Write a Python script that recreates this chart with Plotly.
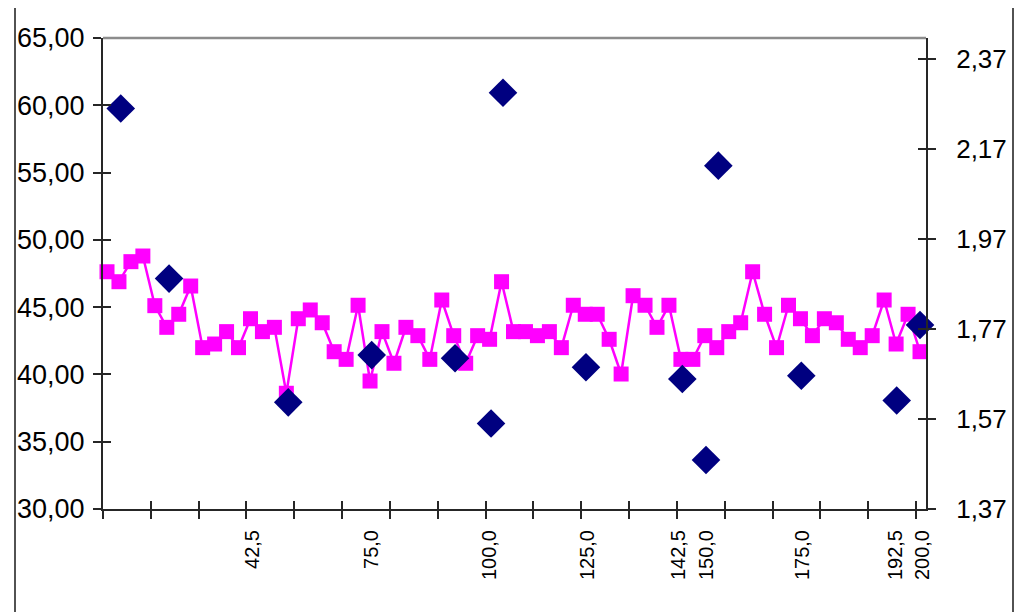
import plotly.graph_objects as go

# ---- data ----
line_values = [47.63, 46.89, 48.38, 48.80, 45.11, 43.50, 44.47, 46.57, 41.99, 42.26,
               43.18, 41.99, 44.14, 43.18, 43.50, 38.60, 44.14, 44.79, 43.84, 41.69,
               41.12, 45.14, 39.51, 43.18, 40.83, 43.50, 42.88, 41.12, 45.53, 42.88,
               40.83, 42.88, 42.61, 46.89, 43.18, 43.18, 42.88, 43.18, 41.99, 45.14,
               44.47, 44.47, 42.61, 40.03, 45.85, 45.14, 43.50, 45.14, 41.12, 41.12,
               42.88, 41.99, 43.18, 43.84, 47.63, 44.47, 41.99, 45.14, 44.14, 42.88,
               44.14, 43.84, 42.61, 41.99, 42.88, 45.53, 42.26, 44.47, 41.69]
line_x = list(range(len(line_values)))

diamond_x = [1.15, 5.19, 15.16, 22.14, 29.11, 32.12, 33.12, 40.06, 48.12,
             50.10, 51.13, 58.07, 66.05, 68.00]
diamond_values = [2.260, 1.882, 1.607, 1.712, 1.705, 1.560, 2.295, 1.685, 1.659,
                  1.479, 2.133, 1.666, 1.611, 1.779]

label_pos = [12.13, 22.16, 32.03, 40.15, 47.76, 50.18, 58.13, 65.91, 68.17]
label_text = ["42,5", "75,0", "100,0", "125,0", "142,5", "150,0", "175,0", "192,5", "200,0"]

left_ticks = [30, 35, 40, 45, 50, 55, 60, 65]
right_ticks = [1.37, 1.57, 1.77, 1.97, 2.17, 2.37]

# ---- styling ----
FONT = "Arial, Liberation Sans, sans-serif"
AX = "#262626"
XR = [-0.335, 68.5]
YR = [30, 65]
Y2R = [1.37, 2.4167]

# page body has an 8px margin, so the figure is drawn 8px in from the window edge
W, H = 1016, 604
L, T, R, B = 95, 30, 1016 - 918, 604 - 501
PW, PH = W - L - R, H - T - B

fig = go.Figure()
fig.add_trace(go.Scatter(
    x=line_x, y=line_values, mode="lines+markers",
    line=dict(color="#FF00FF", width=2.5),
    marker=dict(symbol="square", size=15, color="#FF00FF", line=dict(width=0)),
    cliponaxis=False, showlegend=False, hoverinfo="skip", xaxis="x", yaxis="y"))
fig.add_trace(go.Scatter(
    x=diamond_x, y=diamond_values, mode="markers",
    marker=dict(symbol="diamond", size=22, color="#000080", line=dict(width=0)),
    cliponaxis=False, showlegend=False, hoverinfo="skip", xaxis="x", yaxis="y2"))

# empty helper traces so the overlay axes (cross ticks, labels) get drawn
for xa, ya in [("x2", "y"), ("x3", "y"), ("x", "y3"), ("x", "y4")]:
    fig.add_trace(go.Scatter(x=[None], y=[None], mode="markers", showlegend=False,
                             hoverinfo="skip", xaxis=xa, yaxis=ya))

common_x = dict(range=XR, showgrid=False, zeroline=False, automargin=False)
fig.update_layout(
    width=W, height=H,
    margin=dict(l=L, r=R, t=T, b=B, pad=0, autoexpand=False),
    paper_bgcolor="white", plot_bgcolor="white",
    separators=", ",
    font=dict(family=FONT, color="black"),
    xaxis=dict(**common_x, tickmode="linear", tick0=XR[0], dtick=4,
               showticklabels=False, ticks="outside", ticklen=8, tickwidth=1.5,
               tickcolor=AX, showline=True, linecolor=AX, linewidth=2, anchor="y"),
    xaxis2=dict(**common_x, overlaying="x", anchor="y", tickmode="linear",
                tick0=XR[0], dtick=4, showticklabels=False, ticks="inside",
                ticklen=8, tickwidth=1.5, tickcolor=AX, showline=False),
    xaxis3=dict(**common_x, overlaying="x", anchor="y", tickmode="array",
                tickvals=label_pos, ticktext=label_text, ticks="",
                tickangle=-90, tickfont=dict(size=20, family=FONT),
                ticklabelstandoff=16, showline=False),
    yaxis=dict(range=YR, tickvals=left_ticks, tickformat=".2f", showgrid=False,
               zeroline=False, automargin=False, ticks="outside", ticklen=8,
               tickwidth=1.5, tickcolor=AX, showline=True, linecolor=AX, linewidth=2,
               tickfont=dict(size=27, family=FONT), ticklabelstandoff=3),
    yaxis3=dict(range=YR, tickvals=left_ticks, overlaying="y", side="left",
                showticklabels=False, showgrid=False, zeroline=False, automargin=False,
                ticks="inside", ticklen=8, tickwidth=1.5, tickcolor=AX,
                showline=False),
    yaxis2=dict(range=Y2R, tickvals=right_ticks, tickformat=".2f", overlaying="y",
                side="right", anchor="x", showgrid=False, zeroline=False,
                automargin=False, ticks="outside", ticklen=8, tickwidth=1.5,
                tickcolor=AX, showline=True, linecolor=AX, linewidth=2,
                tickfont=dict(size=26, family=FONT), ticklabelstandoff=15),
    yaxis4=dict(range=Y2R, tickvals=right_ticks, overlaying="y", side="right",
                anchor="x", showticklabels=False, showgrid=False, zeroline=False,
                automargin=False, ticks="inside", ticklen=8, tickwidth=1.5,
                tickcolor=AX, showline=False),
)

# plot-area top border and outer chart frame (pixel positions -> paper coords)
def px(xp):
    return (xp - 8 - L) / PW

def py(yp):
    return (H - B - (yp - 8)) / PH

fig.add_shape(type="line", xref="paper", yref="paper", x0=0, x1=1, y0=1, y1=1,
              line=dict(color="#8c8c8c", width=2.5))
fig.add_shape(type="rect", xref="paper", yref="paper",
              x0=px(15), x1=px(1013), y0=py(640), y1=py(5),
              line=dict(color="#1a1a1a", width=1.5), fillcolor="rgba(0,0,0,0)",
              layer="below")

fig.write_html("out.html")
